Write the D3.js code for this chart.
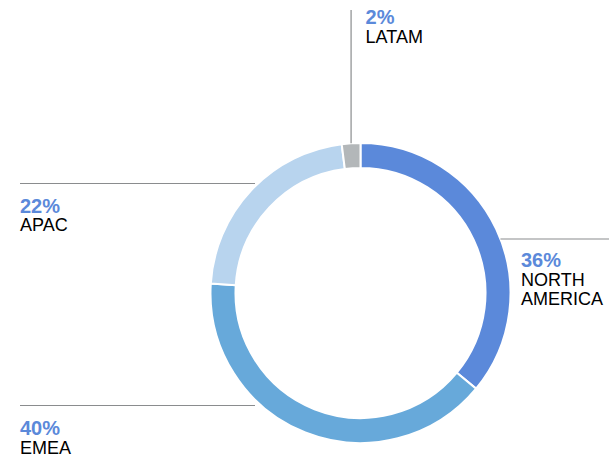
<!DOCTYPE html>
<html>
<head>
<meta charset="utf-8">
<script src="https://cdn.jsdelivr.net/npm/d3@7"></script>
<style>
  html, body { margin: 0; padding: 0; background: #fff; }
  svg { display: block; }
  text { font-family: "Liberation Sans", Arial, Helvetica, sans-serif; }
</style>
</head>
<body>
<svg id="chart" width="609" height="456"></svg>
<script>
// Revenue share by region
const regions = ["NORTH AMERICA", "EMEA", "APAC", "LATAM"];
const shares = [36, 40, 22, 2];
const colors = ["#5b89da", "#67a9da", "#b8d4ee", "#b3b7b9"];

const W = 609, H = 456;
const cx = 360.5, cy = 293;
const outerR = 150, innerR = 125;

const svg = d3.select("#chart");

const pie = d3.pie().sort(null).value(d => d.value);
const arc = d3.arc().innerRadius(innerR).outerRadius(outerR);

const data = regions.map((r, i) => ({ name: r, value: shares[i], color: colors[i] }));
const arcs = pie(data);

const g = svg.append("g").attr("transform", `translate(${cx},${cy})`);

// Leader lines and labels (drawn beneath the ring)
const lineColor = "#8a8c8e";
const ann = svg.append("g");

function label(x, y, pct, lines, anchor) {
  const t = ann.append("text").attr("x", x).attr("y", y).attr("text-anchor", anchor || "start");
  t.append("tspan").attr("x", x).attr("font-size", 20).attr("font-weight", "bold")
    .attr("fill", "#5b89da").text(pct + "%");
  lines.forEach(l => {
    t.append("tspan").attr("x", x).attr("dy", 18.8).attr("font-size", 18)
      .attr("fill", "#000").text(l);
  });
}

// Angle helpers to anchor leader lines on the ring edge
const byName = Object.fromEntries(arcs.map(a => [a.data.name, a]));

// LATAM: vertical line up from the ring top
{
  const a = byName["LATAM"];
  const ang = a.startAngle + (a.endAngle - a.startAngle) * 0.5;
  const x = cx + outerR * Math.sin(ang);
  const yEdge = cy - outerR * Math.cos(ang);
  ann.append("line").attr("x1", x).attr("x2", x).attr("y1", 10).attr("y2", yEdge)
    .attr("stroke", lineColor).attr("stroke-width", 1.2);
  label(x + 14.5, 24, a.data.value, ["LATAM"]);
}

// APAC: horizontal line to the left
ann.append("line").attr("x1", 20).attr("x2", 255).attr("y1", 183.5).attr("y2", 183.5)
  .attr("stroke", lineColor).attr("stroke-width", 1.2);
label(20, 212.5, byName["APAC"].data.value, ["APAC"]);

// EMEA: horizontal line to the left
ann.append("line").attr("x1", 20).attr("x2", 255).attr("y1", 405.5).attr("y2", 405.5)
  .attr("stroke", lineColor).attr("stroke-width", 1.2);
label(20, 435, byName["EMEA"].data.value, ["EMEA"]);

// NORTH AMERICA: horizontal line to the right edge
{
  const y = 239;
  const x0 = cx + Math.sqrt(outerR * outerR - (cy - y) * (cy - y));
  ann.append("line").attr("x1", x0).attr("x2", W).attr("y1", y).attr("y2", y)
    .attr("stroke", lineColor).attr("stroke-width", 1.2);
  label(521, 267, byName["NORTH AMERICA"].data.value, ["NORTH", "AMERICA"]);
}

// Donut ring
g.selectAll("path")
  .data(arcs)
  .join("path")
  .attr("d", arc)
  .attr("fill", d => d.data.color)
  .attr("stroke", "#fff")
  .attr("stroke-width", 2);
</script>
</body>
</html>
